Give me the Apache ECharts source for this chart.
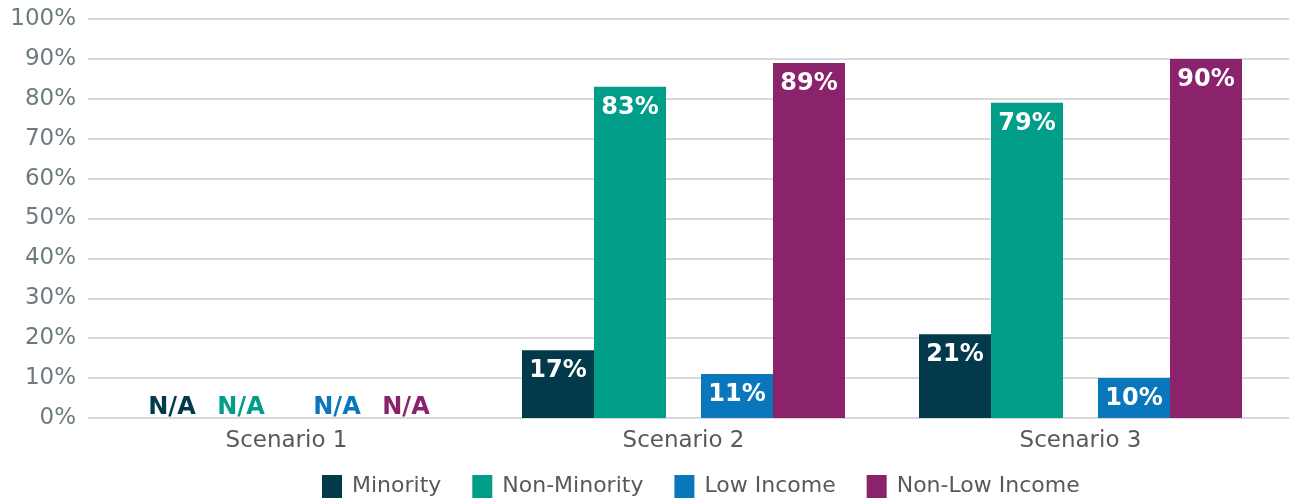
<!DOCTYPE html>
<html>
<head>
<meta charset="utf-8">
<script src="https://cdn.jsdelivr.net/npm/echarts@6/dist/echarts.min.js"></script>
<style>
  html, body { margin: 0; padding: 0; background: #ffffff; }
  #chart { width: 1289px; height: 499px; }
</style>
</head>
<body>
<div id="chart"></div>
<script>
// Share of each group, by scenario (null = not available)
const categories = ['Scenario 1', 'Scenario 2', 'Scenario 3'];
const minority = [null, 17, 21];
const nonMinority = [null, 83, 79];
const lowIncome = [null, 11, 10];
const nonLowIncome = [null, 89, 90];
const yTicks = [0, 10, 20, 30, 40, 50, 60, 70, 80, 90, 100];

const FONT = 'DejaVu Sans, Verdana, sans-serif';

const seriesDefs = [
  { name: 'Minority', values: minority, color: '#023a4c', naShift: 11 },
  { name: 'Non-Minority', values: nonMinority, color: '#009d89', naShift: 8 },
  { name: 'Low Income', values: lowIncome, color: '#0a76bc', naShift: -3 },
  { name: 'Non-Low Income', values: nonLowIncome, color: '#8a236c', naShift: -6 }
];

function makeSeries(def) {
  return {
    name: def.name,
    type: 'bar',
    xAxisIndex: 1,
    yAxisIndex: 1,
    barWidth: 72,
    barGap: '0%',
    itemStyle: { color: def.color },
    label: {
      show: true,
      position: 'insideTop',
      distance: 9,
      color: '#ffffff',
      fontFamily: FONT,
      fontWeight: 'bold',
      fontSize: 24,
      formatter: p => p.value + '%'
    },
    data: def.values.map(v => v === null
      ? {
          value: 0,
          label: {
            position: 'top',
            distance: -2,
            offset: [def.naShift, 0],
            color: def.color,
            formatter: 'N/A'
          }
        }
      : v)
  };
}

const series = seriesDefs.map(makeSeries);
// empty spacer between the two pairs of bars
series.splice(2, 0, {
  name: 'spacer',
  type: 'bar',
  xAxisIndex: 1,
  yAxisIndex: 1,
  barWidth: 35,
  barGap: '0%',
  silent: true,
  itemStyle: { color: 'transparent' },
  data: categories.map(() => 0)
});

const chart = echarts.init(document.getElementById('chart'), null, { renderer: 'canvas' });
chart.setOption({
  animation: false,
  textStyle: { fontFamily: FONT },
  grid: [
    // full-width grid: percentage scale and gridlines
    { left: 88, right: 0, top: 19, bottom: 81 },
    // bar area
    { left: 88, right: 10, top: 19, bottom: 81 }
  ],
  legend: {
    data: seriesDefs.map(d => d.name),
    left: 322,
    bottom: 1,
    padding: 0,
    icon: 'rect',
    itemWidth: 20,
    itemHeight: 23,
    itemGap: 31,
    textStyle: { fontFamily: FONT, fontSize: 22, color: '#595959', padding: [0, 0, 0, 5] }
  },
  xAxis: [
    { type: 'value', gridIndex: 0, show: false, min: 0, max: 1 },
    {
      type: 'category',
      gridIndex: 1,
      data: categories,
      axisLine: { show: false },
      axisTick: { show: false },
      axisLabel: { color: '#595959', fontSize: 23, margin: 12, fontFamily: FONT }
    }
  ],
  yAxis: [
    {
      type: 'value',
      gridIndex: 0,
      min: yTicks[0],
      max: yTicks[yTicks.length - 1],
      interval: 10,
      axisLine: { show: false },
      axisTick: { show: false },
      splitLine: { lineStyle: { color: '#d9d9d9', width: 2 } },
      axisLabel: {
        color: '#6b7b80',
        fontSize: 23,
        margin: 12,
        fontFamily: FONT,
        formatter: v => v + '%'
      }
    },
    {
      type: 'value',
      gridIndex: 1,
      min: yTicks[0],
      max: yTicks[yTicks.length - 1],
      interval: 10,
      show: false,
      splitLine: { show: false }
    }
  ],
  series: series
});
</script>
</body>
</html>
